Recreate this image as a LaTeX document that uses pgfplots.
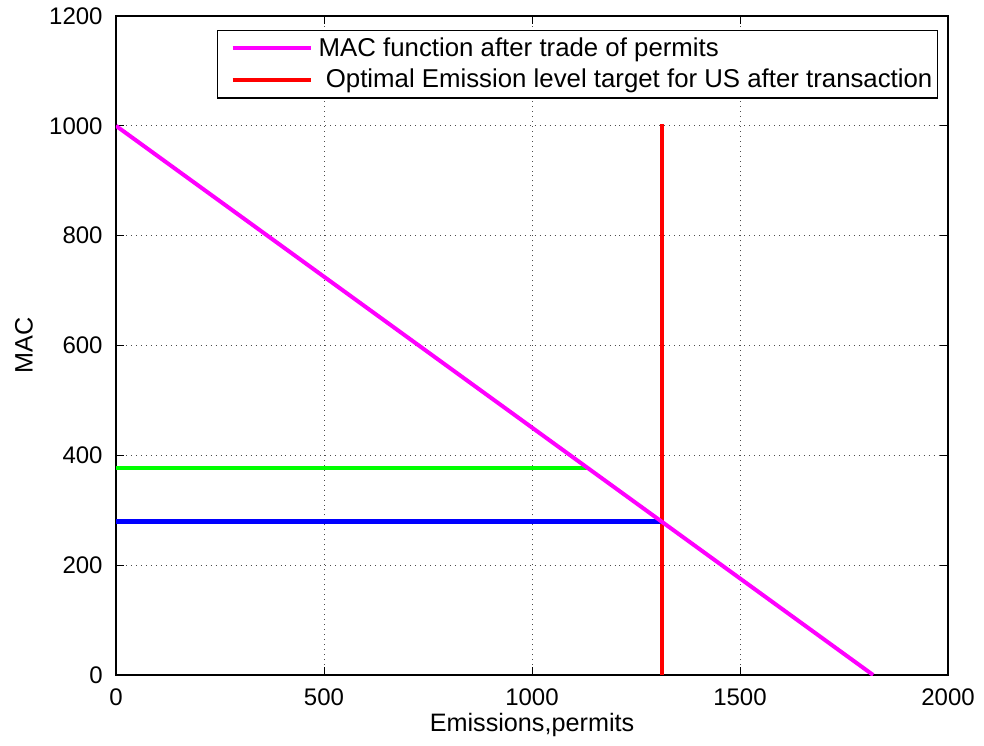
\documentclass[border=0pt]{standalone}
\usepackage{fontspec}
\setmainfont{Liberation Sans}
\usepackage{pgfplots}
\pgfplotsset{compat=1.18}
\definecolor{macmagenta}{rgb}{1,0,1}
\definecolor{optred}{rgb}{1,0,0}
\definecolor{pgreen}{rgb}{0,1,0}
\definecolor{pblue}{rgb}{0,0,1}

\begin{document}
\begin{tikzpicture}
\begin{axis}[
  scale only axis,
  width=416bp, height=329.5bp,
  xmin=0, xmax=2000, ymin=0, ymax=1200,
  xtick={0,500,1000,1500,2000},
  ytick={0,200,400,600,800,1000,1200},
  scaled ticks=false,
  /pgf/number format/assume math mode=true,
  /pgf/number format/1000 sep={},
  tick align=inside,
  major tick length=4bp,
  tick style={black, line width=0.5bp},
  axis line style={line width=0.6bp},
  grid=major,
  grid style={black!70, line width=0.5bp, dotted},
  tick label style={font=\fontsize{12bp}{14bp}\selectfont},
  label style={font=\fontsize{12.6bp}{15bp}\selectfont},
  xticklabel style={anchor=center, yshift=-11bp},
  yticklabel style={anchor=east, inner sep=0pt, xshift=-6.5bp},
  xlabel={Emissions,permits},
  ylabel={MAC},
  xlabel style={at={(axis description cs:0.5,0)}, anchor=center, yshift=-25bp},
  ylabel style={at={(axis description cs:0,0.5)}, anchor=center, yshift=46bp},
  legend cell align=left,
  legend style={
    at={(axis description cs:1,1)}, anchor=north east,
    xshift=-5bp, yshift=-7bp,
    draw=black, line width=0.6bp,
    font=\fontsize{12.9bp}{15bp}\selectfont,
    inner xsep=6.5bp, inner ysep=1.5bp,
    row sep=1bp,
    /tikz/every even column/.append style={column sep=0bp},
  },
  legend image code/.code={\draw[#1] (0bp,0bp) -- (39bp,0bp);},
]
% legend entries
\addlegendimage{macmagenta, line width=2bp}
\addlegendentry{\hspace*{1bp}MAC function after trade of permits\hspace*{-6bp}}
\addlegendimage{optred, line width=2.2bp}
\addlegendentry{\hspace*{1bp}\ Optimal Emission level target for US after transaction\hspace*{-6bp}}

% optimal emission level after the transaction
\addplot[optred, line width=2.2bp, forget plot] coordinates {(1313,0) (1313,1003)};
% permit price levels
\addplot[pgreen, line width=2bp, forget plot] coordinates {(0,377) (1134,377)};
\addplot[pblue, line width=2.3bp, forget plot] coordinates {(0,279) (1313,279)};
% marginal abatement cost after trading
\addplot[macmagenta, line width=2bp, forget plot] coordinates {(0,1000) (1820,0)};
\end{axis}
\useasboundingbox (current axis.south west) ++(-58bp,-35.5bp) rectangle ([shift={(18bp,8bp)}]current axis.north east);
\end{tikzpicture}
\end{document}
